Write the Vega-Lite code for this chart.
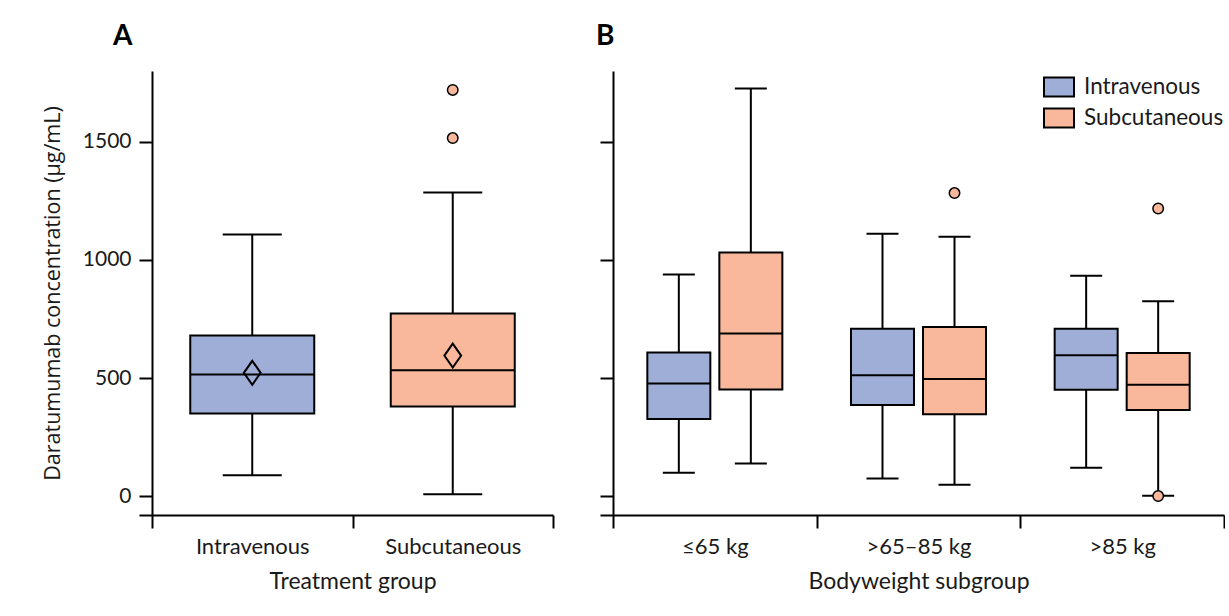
{
  "$schema": "https://vega.github.io/schema/vega-lite/v6.json",
  "background": "white",
  "padding": {"left": 42, "top": 23, "right": 0, "bottom": 0},
  "spacing": 42,
  "datasets": {
    "boxesA": [
      {"group": "Intravenous", "lower": 88, "q1": 350, "median": 515, "q3": 680, "upper": 1108, "mean": 522},
      {"group": "Subcutaneous", "lower": 8, "q1": 379, "median": 533, "q3": 773, "upper": 1286, "mean": 595}
    ],
    "outA": [
      {"group": "Subcutaneous", "value": 1720},
      {"group": "Subcutaneous", "value": 1516}
    ],
    "boxesB": [
      {"weight": "≤65 kg", "treatment": "Intravenous", "lower": 99, "q1": 326, "median": 477, "q3": 608, "upper": 938},
      {"weight": "≤65 kg", "treatment": "Subcutaneous", "lower": 138, "q1": 451, "median": 688, "q3": 1031, "upper": 1726},
      {"weight": ">65–85 kg", "treatment": "Intravenous", "lower": 75, "q1": 386, "median": 512, "q3": 709, "upper": 1111},
      {"weight": ">65–85 kg", "treatment": "Subcutaneous", "lower": 48, "q1": 347, "median": 496, "q3": 716, "upper": 1098},
      {"weight": ">85 kg", "treatment": "Intravenous", "lower": 120, "q1": 450, "median": 596, "q3": 709, "upper": 933},
      {"weight": ">85 kg", "treatment": "Subcutaneous", "lower": 2, "q1": 365, "median": 472, "q3": 606, "upper": 825}
    ],
    "outB": [
      {"weight": ">65–85 kg", "treatment": "Subcutaneous", "value": 1283},
      {"weight": ">85 kg", "treatment": "Subcutaneous", "value": 1218},
      {"weight": ">85 kg", "treatment": "Subcutaneous", "value": 0}
    ]
  },
  "config": {
    "view": {"stroke": null},
    "font": "Lato",
    "axis": {
      "domainColor": "black", "domainWidth": 2,
      "tickColor": "black", "tickWidth": 2, "tickSize": 13,
      "labelFont": "Lato", "labelFontSize": 21, "labelColor": "#1a1a1a", "labelPadding": 8,
      "titleFont": "Lato", "titleFontSize": 23, "titleFontWeight": "normal", "titleColor": "#1a1a1a",
      "grid": false
    },
    "title": {"font": "Lato", "fontSize": 28, "fontWeight": "bold", "color": "black", "anchor": "start", "frame": "group"}
  },
  "resolve": {"scale": {"color": "independent"}, "legend": {"color": "independent"}},
  "hconcat": [
    {
      "width": 401,
      "height": 444,
      "title": {"text": "A", "dx": -39, "offset": 20},
      "data": {"name": "boxesA"},
      "encoding": {
        "x": {
          "field": "group", "type": "nominal",
          "scale": {"domain": ["Intravenous", "Subcutaneous"], "paddingInner": 0, "paddingOuter": 0},
          "axis": {"title": "Treatment group", "labelAngle": 0, "tickBand": "extent", "titlePadding": 13, "labelFontSize": 22}
        }
      },
      "layer": [
        {
          "mark": {"type": "rule", "color": "black", "strokeWidth": 2},
          "encoding": {
            "y": {
              "field": "lower", "type": "quantitative",
              "scale": {"domain": [-80, 1800], "nice": false, "zero": false},
              "axis": {
                "title": "Daratumumab concentration (µg/mL)",
                "values": [-80, 0, 500, 1000, 1500],
                "labelExpr": "datum.value < 0 ? '' : datum.label",
                "format": "d",
                "titlePadding": 18,
                "titleFont": "Open Sans", "titleFontSize": 21.5
              }
            },
            "y2": {"field": "upper"}
          }
        },
        {
          "mark": {"type": "tick", "color": "black", "size": 59, "thickness": 2, "opacity": 1},
          "encoding": {"y": {"field": "lower", "type": "quantitative"}}
        },
        {
          "mark": {"type": "tick", "color": "black", "size": 59, "thickness": 2, "opacity": 1},
          "encoding": {"y": {"field": "upper", "type": "quantitative"}}
        },
        {
          "mark": {"type": "bar", "size": 124, "stroke": "black", "strokeWidth": 2},
          "encoding": {
            "y": {"field": "q1", "type": "quantitative"},
            "y2": {"field": "q3"},
            "color": {
              "field": "group", "type": "nominal",
              "scale": {"domain": ["Intravenous", "Subcutaneous"], "range": ["#9EAED6", "#F9B89B"]},
              "legend": null
            }
          }
        },
        {
          "mark": {"type": "tick", "color": "black", "size": 124, "thickness": 2, "opacity": 1},
          "encoding": {"y": {"field": "median", "type": "quantitative"}}
        },
        {
          "mark": {"type": "point", "shape": "M0,-1L0.7,0L0,1L-0.7,0Z", "size": 576, "filled": false, "stroke": "black", "strokeWidth": 2, "opacity": 1},
          "encoding": {"y": {"field": "mean", "type": "quantitative"}}
        },
        {
          "data": {"name": "outA"},
          "mark": {"type": "point", "shape": "circle", "size": 110, "filled": true, "fill": "#F9B89B", "stroke": "black", "strokeWidth": 1.5, "opacity": 1},
          "encoding": {"y": {"field": "value", "type": "quantitative"}}
        }
      ]
    },
    {
      "width": 611,
      "height": 444,
      "title": {"text": "B", "dx": -17, "offset": 20},
      "data": {"name": "boxesB"},
      "encoding": {
        "x": {
          "field": "weight", "type": "nominal",
          "scale": {"domain": ["≤65 kg", ">65–85 kg", ">85 kg"], "paddingInner": 0, "paddingOuter": 0},
          "axis": {"title": "Bodyweight subgroup", "labelAngle": 0, "tickBand": "extent", "titlePadding": 13, "labelFontSize": 22}
        },
        "xOffset": {
          "field": "treatment", "type": "nominal",
          "scale": {"domain": ["Intravenous", "Subcutaneous"], "paddingInner": 0, "paddingOuter": 0.414}
        }
      },
      "layer": [
        {
          "mark": {"type": "rule", "color": "black", "strokeWidth": 2},
          "encoding": {
            "y": {
              "field": "lower", "type": "quantitative",
              "scale": {"domain": [-80, 1800], "nice": false, "zero": false},
              "axis": {"title": null, "labels": false, "values": [-80, 0, 500, 1000, 1500]}
            },
            "y2": {"field": "upper"}
          }
        },
        {
          "mark": {"type": "tick", "color": "black", "size": 32, "thickness": 2, "opacity": 1},
          "encoding": {"y": {"field": "lower", "type": "quantitative"}}
        },
        {
          "mark": {"type": "tick", "color": "black", "size": 32, "thickness": 2, "opacity": 1},
          "encoding": {"y": {"field": "upper", "type": "quantitative"}}
        },
        {
          "mark": {"type": "bar", "size": 63, "stroke": "black", "strokeWidth": 2},
          "encoding": {
            "y": {"field": "q1", "type": "quantitative"},
            "y2": {"field": "q3"},
            "color": {
              "field": "treatment", "type": "nominal",
              "scale": {"domain": ["Intravenous", "Subcutaneous"], "range": ["#9EAED6", "#F9B89B"]},
              "legend": {
                "title": null, "orient": "top-right", "offset": 0, "padding": 0,
                "symbolType": "M-1,-0.63H1V0.63H-1Z", "symbolSize": 900,
                "symbolStrokeColor": "black", "symbolStrokeWidth": 2, "symbolOpacity": 1,
                "labelFont": "Lato", "labelFontSize": 22.5, "labelColor": "#1a1a1a", "labelOffset": 9,
                "rowPadding": 1
              }
            }
          }
        },
        {
          "mark": {"type": "tick", "color": "black", "size": 63, "thickness": 2, "opacity": 1},
          "encoding": {"y": {"field": "median", "type": "quantitative"}}
        },
        {
          "data": {"name": "outB"},
          "mark": {"type": "point", "shape": "circle", "size": 110, "filled": true, "fill": "#F9B89B", "stroke": "black", "strokeWidth": 1.5, "opacity": 1},
          "encoding": {"y": {"field": "value", "type": "quantitative"}}
        }
      ]
    }
  ]
}
